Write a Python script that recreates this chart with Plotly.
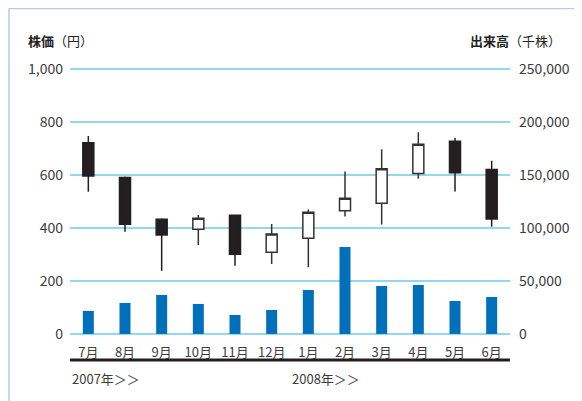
import plotly.graph_objects as go

months = ["7月", "8月", "9月", "10月", "11月", "12月", "1月", "2月", "3月", "4月", "5月", "6月"]
open_ = [722, 591, 433, 395, 448, 308, 361, 465, 493, 606, 727, 621]
close = [596, 414, 374, 437, 301, 377, 459, 512, 624, 716, 609, 434]
high = [747, 594, 437, 449, 450, 415, 470, 613, 697, 761, 740, 654]
low = [537, 386, 239, 336, 257, 264, 252, 443, 413, 586, 538, 405]
volume = [21700, 29200, 36800, 28300, 17900, 22600, 41500, 82000, 45300, 46200, 31100, 34900]
year_labels = ["2007年＞＞", "2008年＞＞"]
year_start_index = [0, 6]

FONT = "Noto Sans CJK JP"
GRID = "#92d8f0"
TXT = "#3c3c3c"

fig = go.Figure()
fig.add_trace(go.Bar(
    x=months, y=volume, yaxis="y2", width=0.3,
    marker=dict(color="#0070bb", line=dict(width=0)), showlegend=False,
))
fig.add_trace(go.Candlestick(
    x=months, open=open_, high=high, low=low, close=close,
    increasing=dict(fillcolor="#ffffff", line=dict(color="#333333", width=1.5)),
    decreasing=dict(fillcolor="#231f20", line=dict(color="#231f20", width=1.5)),
    whiskerwidth=0, showlegend=False,
))

# page has an 8px body margin: figure is drawn 8px right/down
OFF = 8
W, H = 582 - OFF, 401 - OFF
L, R, T, B = 62, 69, 60, 66
pw, ph = W - L - R, H - T - B
Y0, Y1 = -4, 1004          # slightly padded so the 0 and 1,000 grid lines are kept
V0, V1 = Y0 * 250, Y1 * 250
BOTTOM = H - B - (0 - Y0) / (Y1 - Y0) * ph   # figure y of value 0

def px(x):  # page x -> paper
    return (x - OFF - L) / pw

def py(y):  # page y -> paper
    return (H - B - (y - OFF)) / ph

annotations = [
    dict(text="<b>株価</b>（円）", x=px(26), y=py(41), xref="paper", yref="paper",
         xanchor="left", yanchor="middle", showarrow=False, font=dict(size=13, color="#222222", family=FONT)),
    dict(text="<b>出来高</b>（千株）", x=px(566), y=py(41), xref="paper", yref="paper",
         xanchor="right", yanchor="middle", showarrow=False, font=dict(size=13, color="#222222", family=FONT)),
]
for lab, idx in zip(year_labels, year_start_index):
    annotations.append(dict(text=lab, x=idx - 0.5, y=py(378), xref="x", yref="paper",
                            xanchor="left", yanchor="middle", showarrow=False,
                            font=dict(size=13, color=TXT, family=FONT)))

shapes = [
    dict(type="line", xref="paper", yref="paper", x0=0, x1=1, y0=py(360), y1=py(360),
         line=dict(color="#231f20", width=3)),
    dict(type="line", xref="paper", yref="paper", x0=px(8.5), x1=px(600), y0=py(8.5), y1=py(8.5),
         line=dict(color="#aed2e4", width=1.5)),
    dict(type="line", xref="paper", yref="paper", x0=px(8.5), x1=px(8.5), y0=py(8.5), y1=py(420),
         line=dict(color="#aed2e4", width=1.5)),
]

fig.update_layout(
    width=W, height=H,
    margin=dict(l=L, r=R, t=T, b=B, pad=0),
    paper_bgcolor="white", plot_bgcolor="white",
    font=dict(family=FONT, size=14, color=TXT),
    boxgap=0.7, boxgroupgap=0,
    bargap=0.7,
    annotations=annotations, shapes=shapes,
    xaxis=dict(type="category", categoryorder="array", categoryarray=months,
               range=[-0.5, 11.5], rangeslider=dict(visible=False),
               showgrid=False, zeroline=False, showline=False, ticks="",
               tickfont=dict(size=13, color=TXT, family=FONT), ticklabelstandoff=8),
    yaxis=dict(range=[Y0, Y1], tickvals=[0, 200, 400, 600, 800, 1000],
               tickformat=",d", showgrid=True, gridcolor=GRID, gridwidth=1.5,
               zeroline=False,
               showline=False, ticks="", ticklabelstandoff=6,
               tickfont=dict(size=14, color=TXT, family=FONT)),
    yaxis2=dict(range=[V0, V1], tickvals=[0, 50000, 100000, 150000, 200000, 250000],
                tickformat=",d", overlaying="y", side="right", showgrid=False,
                zeroline=False, showline=False, ticks="", ticklabelstandoff=8,
                tickfont=dict(size=14, color=TXT, family=FONT)),
)

fig.write_html("out.html")
